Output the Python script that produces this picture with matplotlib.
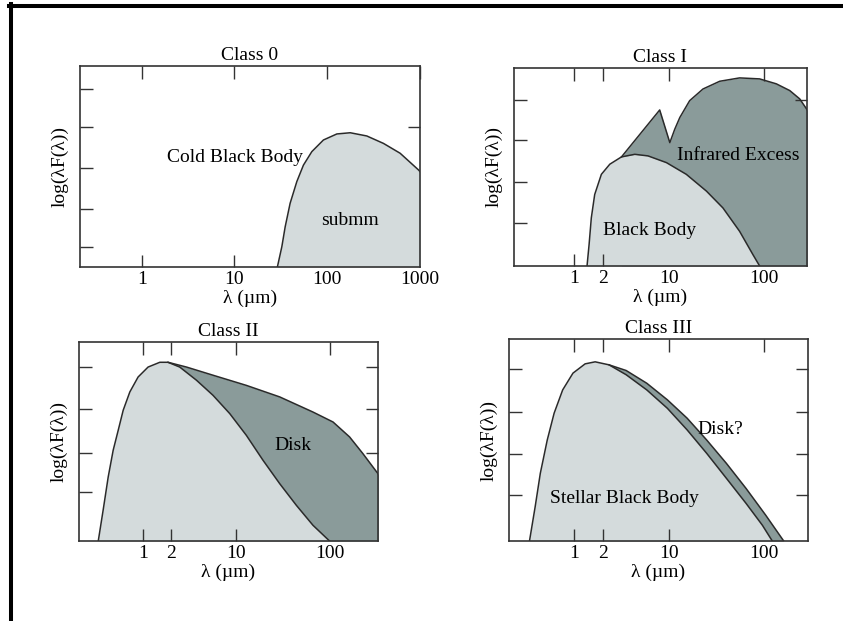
import matplotlib
matplotlib.use('Agg')
from matplotlib import pyplot as plt
from matplotlib.lines import Line2D
from matplotlib.ticker import NullLocator

plt.rcParams['font.family'] = ['Liberation Serif', 'DejaVu Serif']
plt.rcParams['font.size'] = 14

# cores
claro = '#d4dbdc'
escuro = '#8a9b9a'
borda = '#2a2a2a'

# ---- dados (lambda em micrometros, fluxo em fracao do eixo) ----

# Classe 0
lam0 = [29.0, 32.4, 35.2, 39.8, 47.0, 55.4, 68.2, 91, 127, 177, 267, 404, 611, 964, 1000]
flux0 = [0.0, 0.101, 0.2, 0.317, 0.425, 0.507, 0.574, 0.632, 0.662, 0.668, 0.652, 0.615, 0.566, 0.483, 0.475]

# Classe I
lam1_bb = [1.37, 1.44, 1.52, 1.65, 1.94, 2.38, 3.16, 4.36, 6.01, 9.4, 15.2, 24.8, 37, 55.4, 76.6, 90]
flux1_bb = [0.0, 0.108, 0.243, 0.361, 0.463, 0.514, 0.551, 0.564, 0.556, 0.522, 0.463, 0.378, 0.293, 0.175, 0.057, 0.0]
lam1_ir = [3.16, 7.98, 10.2, 11.5, 13.0, 16.5, 22.8, 34.2, 55.4, 90, 135, 187, 238, 284, 300]
flux1_ir = [0.551, 0.788, 0.623, 0.691, 0.75, 0.835, 0.894, 0.933, 0.95, 0.945, 0.92, 0.886, 0.844, 0.79, 0.77]

# Classe II
lam2_bb = [0.33, 0.372, 0.422, 0.477, 0.54, 0.611, 0.72, 0.883, 1.13, 1.51, 1.85, 2.47, 3.73,
           5.62, 8.5, 12.8, 19.3, 29.2, 44.1, 66.4, 100]
flux2_bb = [0.0, 0.154, 0.322, 0.456, 0.556, 0.657, 0.749, 0.824, 0.874, 0.898, 0.898, 0.874, 0.808,
            0.732, 0.64, 0.531, 0.406, 0.288, 0.179, 0.079, 0.0]
lam2_disk = [1.85, 2.92, 5.62, 12.8, 29.2, 66.4, 109, 164, 228, 292, 330, 350]
flux2_disk = [0.898, 0.874, 0.833, 0.782, 0.724, 0.648, 0.598, 0.523, 0.439, 0.372, 0.339, 0.32]

# Classe III
lam3_bb = [0.34, 0.39, 0.442, 0.523, 0.618, 0.76, 0.975, 1.31, 1.67, 2.34, 3.54, 5.83, 9.6,
           15.5, 24.9, 40.2, 64.7, 96, 122]
flux3_bb = [0.0, 0.169, 0.335, 0.5, 0.633, 0.748, 0.831, 0.877, 0.887, 0.872, 0.823, 0.748, 0.657,
            0.55, 0.434, 0.31, 0.186, 0.078, 0.0]
lam3_disk = [2.34, 3.54, 5.83, 9.6, 15.5, 24.9, 40.2, 64.7, 104, 161]
flux3_disk = [0.872, 0.844, 0.781, 0.699, 0.608, 0.5, 0.384, 0.26, 0.128, 0.0]

# ticks
xt0 = [1, 10, 100, 1000]
xt = [1, 2, 10, 100]
yt0 = [0.0995, 0.289, 0.4925, 0.697, 0.886]
yt1 = [0.218, 0.423, 0.635, 0.837]
yt2 = [0.245, 0.444, 0.663, 0.874]
yt3 = [0.227, 0.43, 0.641, 0.851]


def painel(pos, titulo, xlim, xticks, yticks, baixo, direita):
    ax = fig.add_axes(pos)
    ax.set_xscale('log')
    ax.set_xlim(xlim)
    ax.set_ylim(0, 1)
    ax.set_xticks(xticks)
    ax.set_xticklabels([str(v) for v in xticks])
    ax.set_yticks(yticks)
    ax.xaxis.set_minor_locator(NullLocator())
    ax.yaxis.set_minor_locator(NullLocator())
    ax.tick_params(direction='in', length=9, width=1.0, color='#333333',
                   top=True, right=True, labelleft=False, pad=3)
    for s in ax.spines.values():
        s.set_color('#333333')
        s.set_linewidth(1.2)
    # marcas que nao aparecem na figura original
    for t, v in zip(ax.xaxis.get_major_ticks(), baixo):
        t.tick1line.set_visible(v)
    for t, v in zip(ax.yaxis.get_major_ticks(), direita):
        t.tick2line.set_visible(v)
    ax.set_title(titulo, fontsize=14, pad=4)
    ax.set_xlabel('λ (µm)', labelpad=1)
    ax.set_ylabel('log(λF(λ))', labelpad=8)
    return ax


fig = plt.figure(figsize=(8.43, 6.21), dpi=100)

# moldura (topo e esquerda)
fig.add_artist(Line2D([0.0107, 1.0], [0.9911, 0.9911], color='black', lw=2.9))
fig.add_artist(Line2D([0.0125, 0.0125], [0.0, 0.9935], color='black', lw=2.9))

# Class 0
ax = painel([0.0949, 0.570, 0.4033, 0.3237], 'Class 0', (0.216, 1000), xt0, yt0,
            [True, True, False, False], [False, False, False, True, False])
ax.fill_between(lam0, 0, flux0, color=claro, lw=0)
ax.plot(lam0, flux0, color=borda, lw=1.1)
ax.text(0.456, 0.547, 'Cold Black Body', transform=ax.transAxes, ha='center', va='center')
ax.text(0.794, 0.229, 'submm', transform=ax.transAxes, ha='center', va='center')

# Class I
ax = painel([0.6097, 0.5717, 0.3476, 0.3188], 'Class I', (0.233, 284), xt, yt1,
            [True, True, False, False], [False, False, False, True])
ax.fill_between(lam1_ir, 0, flux1_ir, color=escuro, lw=0)
ax.plot(lam1_ir, flux1_ir, color=borda, lw=1.1)
ax.fill_between(lam1_bb, 0, flux1_bb, color=claro, lw=0)
ax.plot(lam1_bb, flux1_bb, color=borda, lw=1.1)
ax.text(0.766, 0.56, 'Infrared Excess', transform=ax.transAxes, ha='center', va='center')
ax.text(0.464, 0.18, 'Black Body', transform=ax.transAxes, ha='center', va='center')

# Class II
ax = painel([0.0937, 0.1288, 0.3547, 0.3205], 'Class II', (0.205, 331), xt, yt2,
            [True, True, True, False], [False, True, True, True])
ax.fill_between(lam2_disk, 0, flux2_disk, color=escuro, lw=0)
ax.plot(lam2_disk, flux2_disk, color=borda, lw=1.1)
ax.fill_between(lam2_bb, 0, flux2_bb, color=claro, lw=0)
ax.plot(lam2_bb, flux2_bb, color=borda, lw=1.1)
ax.text(0.716, 0.482, 'Disk', transform=ax.transAxes, ha='center', va='center')

# Class III
ax = painel([0.6038, 0.1288, 0.3547, 0.3253], 'Class III', (0.207, 290), xt, yt3,
            [True, True, True, False], [True, True, True, True])
ax.fill_between(lam3_disk, 0, flux3_disk, color=escuro, lw=0)
ax.plot(lam3_disk, flux3_disk, color=borda, lw=1.1)
ax.fill_between(lam3_bb, 0, flux3_bb, color=claro, lw=0)
ax.plot(lam3_bb, flux3_bb, color=borda, lw=1.1)
ax.text(0.706, 0.553, 'Disk?', transform=ax.transAxes, ha='center', va='center')
ax.text(0.385, 0.208, 'Stellar Black Body', transform=ax.transAxes, ha='center', va='center')

plt.savefig('out.png', dpi=100)
